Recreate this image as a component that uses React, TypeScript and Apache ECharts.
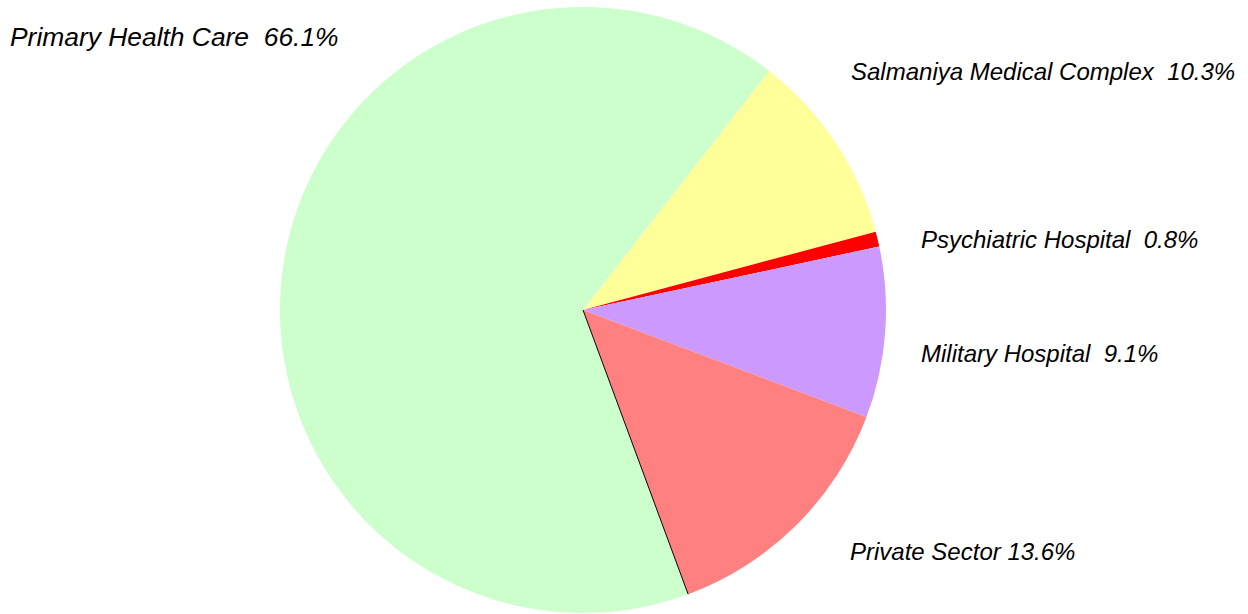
import React, { useEffect, useRef } from "react";
import * as echarts from "echarts";

const categories = [
  "Salmaniya Medical Complex",
  "Psychiatric Hospital",
  "Military Hospital",
  "Private Sector",
  "Primary Health Care",
];
const shares = [10.3, 0.8, 9.1, 13.6, 66.1];
const separators = ["  ", "  ", "  ", " ", "  "];
const colors = ["#FFFF99", "#FF0000", "#CC99FF", "#FF8080", "#CCFFCC"];
const labelSizes = [24, 24, 24, 24, 26.4];
const labelPos = [
  [851, 71],
  [921, 239],
  [921, 353],
  [850, 551],
  [10, 37],
];

const CX = 583;
const CY = 310;
const R = 303;
const START = 52.1;

export default function App() {
  const ref = useRef<HTMLDivElement>(null);
  useEffect(() => {
    if (!ref.current) return;
    const chart = echarts.init(ref.current, null, { renderer: "svg" });
    const total = shares.reduce((a, b) => a + b, 0);
    const before = shares.slice(0, 4).reduce((a, b) => a + b, 0);
    const ang = ((START - (360 * before) / total) * Math.PI) / 180;
    chart.setOption({
      animation: false,
      backgroundColor: "#ffffff",
      graphic: [
        {
          type: "line",
          z: 100,
          shape: {
            x1: CX,
            y1: CY,
            x2: CX + R * Math.cos(ang),
            y2: CY - R * Math.sin(ang),
          },
          style: { stroke: "#000000", lineWidth: 1 },
        },
      ],
      series: [
        {
          type: "pie",
          center: [CX, CY],
          radius: [0, R],
          startAngle: START,
          clockwise: true,
          avoidLabelOverlap: false,
          data: categories.map((c, i) => ({
            name: c,
            value: shares[i],
            itemStyle: { color: colors[i] },
            label: { fontSize: labelSizes[i] },
          })),
          label: {
            show: true,
            position: "outside",
            overflow: "none",
            width: 600,
            fontFamily: "'Liberation Sans', Arial, sans-serif",
            fontStyle: "italic",
            fontSize: 24,
            color: "#000000",
            formatter: (p: any) =>
              p.name + separators[p.dataIndex] + Number(p.value).toFixed(1) + "%",
          },
          labelLine: { show: false },
          labelLayout: (p: any) => ({
            x: labelPos[p.dataIndex][0],
            y: labelPos[p.dataIndex][1],
            align: "left",
            verticalAlign: "middle",
          }),
          emphasis: { disabled: true },
          silent: true,
        },
      ],
    });
    return () => chart.dispose();
  }, []);
  return (
    <div
      ref={ref}
      style={{ position: "absolute", left: 0, top: 0, width: 1248, height: 614 }}
    />
  );
}
